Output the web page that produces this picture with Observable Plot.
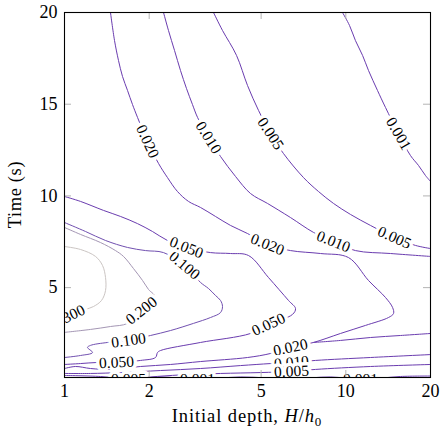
<!DOCTYPE html>
<html>
<head>
<meta charset="utf-8">
<script src="https://cdn.jsdelivr.net/npm/d3@7"></script>
<script src="https://cdn.jsdelivr.net/npm/@observablehq/plot@0.6"></script>
<style>
  html, body { margin: 0; padding: 0; background: #fff; }
  #chart svg { display: block; }
</style>
</head>
<body>
<div id="chart"></div>
<script>
// Iso-lines of the field over initial depth H/h0 (log axis) and time t (s).
// Each contour is a polyline of [H/h0, t] points; some levels have several branches.
const xTicks = [1, 2, 5, 10, 20];
const yTicks = [5, 10, 15, 20];

const c300 = [[1.000,7.24],[1.140,7.08],[1.289,6.70],[1.365,6.21],[1.399,5.55],[1.399,4.84],[1.354,4.30],[1.268,3.97],[1.188,3.81],[1.033,3.43],[1.000,3.32]];
const c200 = [[1.000,8.28],[1.140,7.90],[1.342,7.46],[1.518,7.02],[1.621,6.70],[1.759,6.04],[1.894,5.39],[1.989,4.90],[2.089,4.52],[1.878,3.75],[1.675,3.05],[1.457,2.88],[1.237,2.72],[1.000,2.56]];
const c100 = [[1.000,8.55],[1.188,8.06],[1.399,7.57],[1.675,7.19],[1.941,7.02],[2.249,6.91],[2.670,6.21],[3.045,5.28],[3.251,4.95],[3.442,4.57],[3.586,4.30],[3.645,3.97],[3.586,3.64],[3.304,3.37],[2.874,3.05],[2.381,2.66],[2.022,2.39],[1.689,2.12],[1.422,2.01],[1.237,1.85],[1.207,1.74],[1.258,1.46],[1.140,1.30],[1.000,1.19]];
const c050 = [[1.000,9.97],[1.140,9.70],[1.376,9.21],[1.582,8.88],[1.818,8.49],[2.055,8.06],[2.323,7.57],[2.714,7.19],[3.304,6.91],[3.892,6.86],[4.510,6.75],[5.311,5.55],[6.256,4.30],[6.626,3.86],[6.465,3.54],[5.311,2.99],[4.585,2.50],[3.045,2.01],[2.194,1.57],[2.141,1.46],[2.106,1.19],[1.863,1.03],[1.530,0.92],[1.310,0.92],[1.140,0.86],[1.000,0.81]];
const c020a = [[1.457,20],[1.506,18.47],[1.556,17.38],[1.608,16.51],[1.675,15.75],[1.745,14.98],[1.818,14.28],[1.973,12.97],[2.159,11.77],[2.323,11.00],[2.521,10.24],[2.759,9.70],[3.045,9.37],[3.442,8.88],[3.892,8.39],[4.473,7.95],[5.267,7.35],[6.360,7.02],[8.128,6.86],[10.22,6.64],[12.04,5.39],[13.84,4.46],[14.66,3.92],[14.78,3.59],[14.18,3.37],[11.75,2.94],[9.574,2.50],[7.675,2.01],[6.360,1.74],[5.400,1.41],[4.473,1.19],[3.045,0.97],[2.381,0.81],[1.863,0.70],[1.457,0.54],[1.237,0.59],[1.094,0.70],[1.000,0.59]];
const c020b = [[7.675,2.01],[9.574,2.12],[12.24,2.28],[15.65,2.39],[20,2.50]];
const c010a = [[2.249,20],[2.342,19.02],[2.461,17.93],[2.584,16.84],[2.714,15.86],[2.851,14.98],[2.971,14.28],[3.251,13.18],[3.586,12.15],[4.055,11.06],[4.585,10.13],[5.267,9.59],[6.360,8.82],[7.675,8.01],[9.041,7.51],[10.82,7.02],[14.42,6.86],[20,6.70]];
const c010b = [[1.000,0.32],[1.237,0.32],[1.582,0.37],[2.194,0.48],[3.045,0.59],[4.224,0.75],[5.400,0.86],[6.412,0.92],[7.802,1.03],[12.24,1.19],[20,1.35]];
const c005a = [[3.386,20],[3.645,19.02],[4.088,17.66],[4.473,16.02],[4.895,14.66],[5.400,13.40],[6.005,12.31],[7.073,11.00],[7.996,10.24],[9.041,9.59],[10.39,8.99],[12.24,8.39],[14.90,7.73],[17.69,7.30],[20,7.13]];
const c005b = [[1.000,0.21],[1.342,0.155],[1.689,0.02],[2.022,0.13],[2.584,0.24],[3.586,0.32],[4.975,0.37],[6.412,0.43],[7.802,0.54],[12.24,0.70],[20,0.81]];
const c001a = [[9.732,20],[10.31,19.29],[10.82,18.47],[11.47,17.66],[12.04,16.84],[12.96,15.75],[13.84,14.82],[15.39,13.40],[16.98,12.20],[18.13,11.66],[19.20,11.11],[20,10.79]];
const c001b = [[1.000,0.02],[1.689,-0.04],[2.194,0.13],[2.971,-0.01],[4.224,0.13],[6.412,0.02],[8.822,0.13],[11.28,-0.01],[15.65,0.155],[20,0.18]];

// contour branches, with their level
const contours = [
  {level: 0.300, pts: c300}, {level: 0.200, pts: c200}, {level: 0.100, pts: c100},
  {level: 0.050, pts: c050}, {level: 0.020, pts: c020a}, {level: 0.020, pts: c020b},
  {level: 0.010, pts: c010a}, {level: 0.010, pts: c010b}, {level: 0.005, pts: c005a},
  {level: 0.005, pts: c005b}, {level: 0.001, pts: c001a}, {level: 0.001, pts: c001b}
];

// inline contour labels: level, position and text angle (degrees, clockwise)
const labels = [
  {level: 0.020, H: 1.973, t: 12.97, angle: 65},
  {level: 0.010, H: 3.251, t: 13.18, angle: 58},
  {level: 0.005, H: 5.400, t: 13.40, angle: 57},
  {level: 0.001, H: 15.39, t: 13.40, angle: 60},
  {level: 0.020, H: 5.267, t: 7.35, angle: 22},
  {level: 0.010, H: 9.041, t: 7.51, angle: 22},
  {level: 0.005, H: 14.90, t: 7.73, angle: 24},
  {level: 0.100, H: 2.670, t: 6.21, angle: 40},
  {level: 0.050, H: 2.714, t: 7.19, angle: 22},
  {level: 0.200, H: 1.878, t: 3.75, angle: -38},
  {level: 0.300, H: 1.033, t: 3.43, angle: -25},
  {level: 0.100, H: 1.689, t: 2.12, angle: -8},
  {level: 0.050, H: 5.311, t: 2.99, angle: -25},
  {level: 0.050, H: 1.530, t: 0.92, angle: -3},
  {level: 0.020, H: 6.360, t: 1.74, angle: -12},
  {level: 0.010, H: 6.412, t: 0.92, angle: -5},
  {level: 0.005, H: 6.412, t: 0.43, angle: -3},
  {level: 0.005, H: 1.689, t: -0.01, angle: 0},
  {level: 0.001, H: 2.971, t: -0.01, angle: 0},
  {level: 0.001, H: 11.28, t: -0.01, angle: 0}
];

const levelColor = l => l >= 0.3 ? "#cbc5c3" : l >= 0.2 ? "#a496b4" : l >= 0.1 ? "#7150b0" : "#6a3caf";

const W = 447, Ht = 436, mL = 64, mR = 17, mT = 12, mB = 59;
const innerW = W - mL - mR, innerH = Ht - mT - mB, tick = 7;

const lineMarks = contours.map(c => Plot.line(c.pts, {
  x: d => d[0], y: d => d[1], stroke: levelColor(c.level), strokeWidth: 1,
  curve: "catmull-rom", clip: true
}));

const fig = Plot.plot({
  width: W, height: Ht,
  marginLeft: mL, marginRight: mR, marginTop: mT, marginBottom: mB,
  style: {fontFamily: "'Liberation Serif', serif", fontSize: "18px", background: "#fff"},
  x: {type: "log", domain: [1, 20], axis: null},
  y: {domain: [0.1, 20], axis: null},
  marks: [
    ...lineMarks,
    Plot.text(labels, {
      x: "H", y: "t", text: d => d.level.toFixed(3), rotate: "angle",
      fontSize: 15.5, fill: "black", stroke: "white", strokeWidth: 7,
      paintOrder: "stroke", clip: true
    }),
    // inward ticks on all four sides
    Plot.ruleX(xTicks, {x: d => d, insetTop: innerH - tick, stroke: "#b4b4b4"}),
    Plot.ruleX(xTicks, {x: d => d, insetBottom: innerH - tick, stroke: "#b4b4b4"}),
    Plot.ruleY(yTicks, {y: d => d, insetRight: innerW - tick, stroke: "#b4b4b4"}),
    Plot.ruleY(yTicks, {y: d => d, insetLeft: innerW - tick, stroke: "#b4b4b4"}),
    // tick labels
    Plot.text(xTicks, {x: d => d, frameAnchor: "bottom", lineAnchor: "top", dy: 7,
      text: d => String(d), fontSize: 18, fill: "black"}),
    Plot.text(yTicks, {y: d => d, frameAnchor: "left", textAnchor: "end", dx: -7,
      text: d => String(d), fontSize: 18, fill: "black"}),
    Plot.frame({stroke: "black", strokeWidth: 1.1})
  ]
});

const svg = d3.select(fig);
const xt = svg.append("text")
  .attr("x", mL + innerW / 2).attr("y", 422)
  .attr("text-anchor", "middle").attr("fill", "black").attr("font-size", 18.5)
  .attr("letter-spacing", 0.9);
xt.append("tspan").text("Initial depth, ");
xt.append("tspan").attr("font-style", "italic").text("H");
xt.append("tspan").text("/");
xt.append("tspan").attr("font-style", "italic").text("h");
xt.append("tspan").attr("font-size", 13).attr("dy", 4).text("0");

svg.append("text")
  .attr("transform", `translate(21,${mT + innerH / 2}) rotate(-90)`)
  .attr("text-anchor", "middle").attr("fill", "black").attr("font-size", 18.5)
  .attr("letter-spacing", 0.6)
  .text("Time (s)");

document.getElementById("chart").append(fig);
</script>
</body>
</html>
